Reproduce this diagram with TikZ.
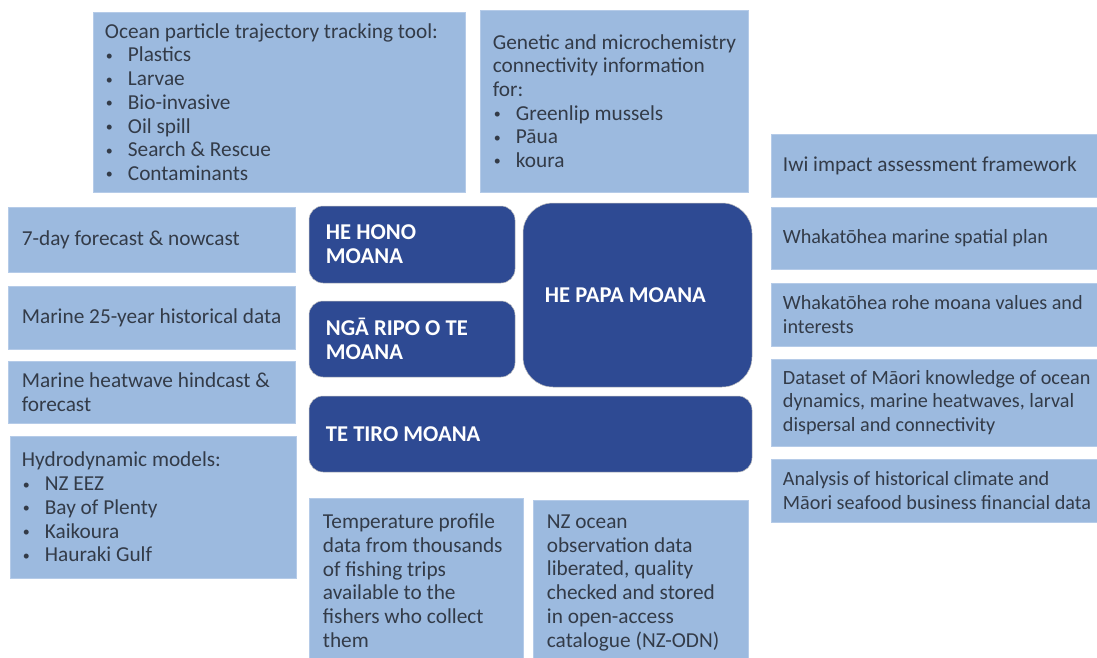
\documentclass[tikz,border=0pt]{standalone}
\usepackage{fontspec}
\setmainfont{Carlito}
\usetikzlibrary{fit}
\definecolor{lightbox}{HTML}{9CBADF}
\definecolor{lightedge}{HTML}{B5CBE8}
\definecolor{darkbox}{HTML}{2E4A93}
\definecolor{txtcol}{HTML}{333B48}
\newcommand{\bul}{\makebox[23pt][l]{\hspace{1pt}\raisebox{1.6pt}{\fontsize{14}{14}\selectfont •}}}
\tikzset{
  lbox/.style={fill=lightbox, draw=lightedge, line width=0.6pt, inner sep=0pt},
  dbox/.style={fill=darkbox, draw=black!25, line width=0.5pt, inner sep=0pt, rounded corners=14pt},
  txt/.style={text=txtcol, align=left, inner sep=0pt, font=\fontsize{21.3}{23.7}\selectfont},
  stxt/.style={txt, font=\fontsize{20.2}{23.6}\selectfont},
  dtxt/.style={text=white, align=left, inner sep=0pt, font=\bfseries\fontsize{22.6}{24}\selectfont}
}
\begin{document}
\begin{tikzpicture}[x=1pt,y=-1pt]
\useasboundingbox[fill=white] (0,0) rectangle (1097,657);
% top boxes
\node[lbox, fit={(93,12) (465,192)}] (ocean) {};
\node[txt, anchor=west] (oceanT) at ([xshift=12pt]ocean.west) {Ocean particle trajectory tracking tool:\\ \bul Plastics\\ \bul Larvae\\ \bul Bio-invasive\\ \bul Oil spill\\ \bul Search \& Rescue\\ \bul Contaminants};
\node[lbox, fit={(480,10) (748,192)}] (gen) {};
\node[txt, anchor=west] (genT) at ([xshift=13pt]gen.west) {Genetic and microchemistry\\ connectivity information\\ for:\\ \bul Greenlip mussels\\ \bul Pāua\\ \bul koura};
% left column
\node[lbox, fit={(8,207) (295,272)}] (fc) {};
\node[txt, anchor=west] (fcT) at ([xshift=14pt]fc.west) {7-day forecast \& nowcast};
\node[lbox, fit={(8,286) (295,349)}] (hist) {};
\node[txt, anchor=west] (histT) at ([xshift=14pt]hist.west) {Marine 25-year historical data};
\node[lbox, fit={(8,361) (295,423)}] (hw) {};
\node[txt, anchor=west] (hwT) at ([xshift=14pt]hw.west) {Marine heatwave hindcast \&\\ forecast};
\node[lbox, fit={(10,436) (296,578)}] (hyd) {};
\node[txt, anchor=west] (hydT) at ([xshift=12pt]hyd.west) {Hydrodynamic models:\\ \bul NZ EEZ\\ \bul Bay of Plenty\\ \bul Kaikoura\\ \bul Hauraki Gulf};
% right column
\node[lbox, fit={(771,134) (1098,197)}] (iwi) {};
\node[txt, anchor=west] (iwiT) at ([xshift=12pt]iwi.west) {Iwi impact assessment framework};
\node[lbox, fit={(771,207) (1098,269)}] (msp) {};
\node[stxt, anchor=west] (mspT) at ([xshift=12pt]msp.west) {Whakatōhea marine spatial plan};
\node[lbox, fit={(771,283) (1098,346)}] (rohe) {};
\node[stxt, anchor=west] (roheT) at ([xshift=12pt]rohe.west) {Whakatōhea rohe moana values and\\ interests};
\node[lbox, fit={(771,359) (1098,446)}] (ds) {};
\node[stxt, anchor=west] (dsT) at ([xshift=12pt]ds.west) {Dataset of Māori knowledge of ocean\\ dynamics, marine heatwaves, larval\\ dispersal and connectivity};
\node[lbox, fit={(771,459) (1098,522)}] (an) {};
\node[stxt, anchor=west] (anT) at ([xshift=12pt]an.west) {Analysis of historical climate and\\ Māori seafood business financial data};
% bottom boxes
\node[lbox, fit={(309,498) (523,660)}] (temp) {};
\node[txt, anchor=north west] (tempT) at ([xshift=14pt,yshift=-16pt]temp.north west) {Temperature profile\\ data from thousands\\ of fishing trips\\ available to the\\ fishers who collect\\ them};
\node[lbox, fit={(533,500) (748,660)}] (odn) {};
\node[txt, anchor=north west] (odnT) at ([xshift=14pt,yshift=-15pt]odn.north west) {NZ ocean\\ observation data\\ liberated, quality\\ checked and stored\\ in open-access\\ catalogue (NZ-ODN)};
% dark boxes
\node[dbox, fit={(309,206) (515,283)}] (hono) {};
\node[dtxt, anchor=west] (honoT) at ([xshift=17pt]hono.west) {HE HONO\\ MOANA};
\node[dbox, fit={(309,301) (515,377)}] (ripo) {};
\node[dtxt, anchor=west] (ripoT) at ([xshift=17pt]ripo.west) {NGĀ RIPO O TE\\ MOANA};
\node[dbox, rounded corners=30pt, fit={(523,203) (752,387)}] (papa) {};
\node[dtxt, anchor=west] (papaT) at ([xshift=22pt]papa.west) {HE PAPA MOANA};
\node[dbox, fit={(309,396) (752,472)}] (tiro) {};
\node[dtxt, anchor=west] (tiroT) at ([xshift=17pt]tiro.west) {TE TIRO MOANA};
\end{tikzpicture}
\end{document}
